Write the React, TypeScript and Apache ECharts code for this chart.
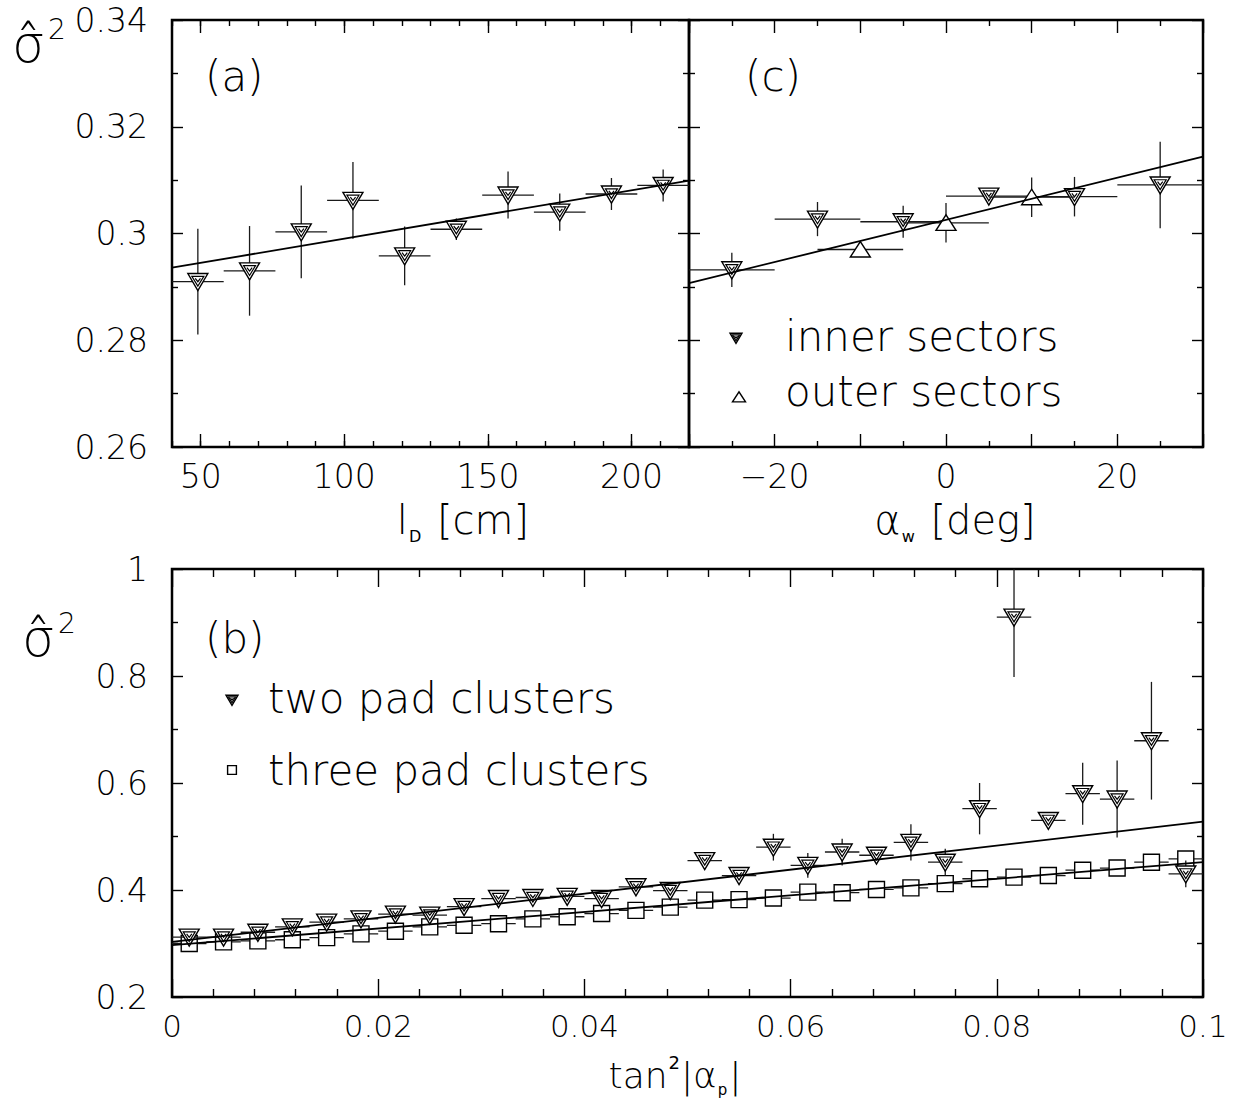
import React, { useEffect, useRef } from 'react';
import * as echarts from 'echarts';

// ---------- (a) sigma^2 versus drift length l_D ----------
const driftLength = [49, 67, 85, 103, 121, 139, 157, 175, 193, 211];
const driftHalfBin = 9;
const driftSigma2 = [0.2910, 0.2930, 0.3003, 0.3062, 0.2958, 0.3008, 0.3072, 0.3040, 0.3074, 0.3090];
const driftErr = [0.0099, 0.0084, 0.0087, 0.0072, 0.0055, 0.0020, 0.0044, 0.0035, 0.0030, 0.0030];
const driftFit = [[40, 0.2936], [220, 0.3099]];
const driftTicks = [50, 100, 150, 200];

// ---------- (c) sigma^2 versus wire angle alpha_w ----------
const innerAngle = [-25, -15, -5, 5, 15, 25];
const innerSigma2 = [0.2932, 0.3027, 0.3022, 0.3070, 0.3069, 0.3091];
const innerErr = [0.0032, 0.0032, 0.0030, 0.0010, 0.0037, 0.0081];
const outerAngle = [-10, 0, 10];
const outerSigma2 = [0.2970, 0.3020, 0.3068];
const outerErr = [0.0010, 0.0037, 0.0037];
const angleHalfBin = 5;
const angleFit = [[-30, 0.2907], [30, 0.3144]];

// ---------- (b) sigma^2 versus tan^2|alpha_p| ----------
const tan2Center = [
  0.00167, 0.005, 0.00833, 0.01167, 0.015, 0.01833, 0.02167, 0.025, 0.02833, 0.03167,
  0.035, 0.03833, 0.04167, 0.045, 0.04833, 0.05167, 0.055, 0.05833, 0.06167, 0.065,
  0.06833, 0.07167, 0.075, 0.07833, 0.08167, 0.085, 0.08833, 0.09167, 0.095, 0.09833,
];
const tan2HalfBin = 0.00167;
const twoPadSigma2 = [
  0.312, 0.312, 0.321, 0.331, 0.340, 0.346, 0.355, 0.353, 0.369, 0.384,
  0.386, 0.388, 0.384, 0.406, 0.399, 0.455, 0.427, 0.480, 0.446, 0.471,
  0.465, 0.489, 0.452, 0.552, 0.910, 0.530, 0.580, 0.570, 0.679, 0.430,
];
const twoPadErr = [
  0.006, 0.006, 0.006, 0.007, 0.007, 0.008, 0.008, 0.008, 0.009, 0.010,
  0.010, 0.010, 0.011, 0.012, 0.012, 0.012, 0.012, 0.025, 0.023, 0.025,
  0.012, 0.034, 0.025, 0.048, 0.112, 0.012, 0.058, 0.072, 0.110, 0.025,
];
const threePadSigma2 = [
  0.300, 0.303, 0.305, 0.307, 0.311, 0.318, 0.323, 0.331, 0.334, 0.337,
  0.346, 0.350, 0.356, 0.362, 0.368, 0.381, 0.382, 0.385, 0.396, 0.395,
  0.401, 0.404, 0.412, 0.421, 0.424, 0.427, 0.437, 0.441, 0.452, 0.458,
];
const threePadErr = [
  0.004, 0.004, 0.004, 0.004, 0.005, 0.005, 0.005, 0.005, 0.006, 0.006,
  0.006, 0.006, 0.007, 0.007, 0.008, 0.008, 0.008, 0.008, 0.009, 0.009,
  0.009, 0.010, 0.010, 0.010, 0.011, 0.011, 0.012, 0.012, 0.013, 0.014,
];
const twoPadFit = [[0, 0.303], [0.1, 0.528]];
const threePadFit = [[0, 0.297], [0.1, 0.452]];

const FONT = '"DejaVu Sans", "Open Sans", sans-serif';
const WEIGHT = 200;
const INK = '#000';

type MarkerKind = 'triDown' | 'triUp' | 'square';

// Marker outlines centred on (cx, cy); s scales the symbol.
function markerShapes(kind: MarkerKind, cx: number, cy: number, s = 1): any[] {
  if (kind === 'triDown') {
    return [
      { type: 'polygon', shape: { points: [[cx - 10 * s, cy - 8 * s], [cx + 10 * s, cy - 8 * s], [cx, cy + 9 * s]] },
        style: { fill: '#fff', stroke: INK, lineWidth: 1.4 } },
      { type: 'polygon', shape: { points: [[cx - 6 * s, cy - 5.2 * s], [cx + 6 * s, cy - 5.2 * s], [cx, cy + 4.6 * s]] },
        style: { fill: 'none', stroke: INK, lineWidth: 1.2 } },
      { type: 'polyline', shape: { points: [[cx - 2.6 * s, cy - 3.2 * s], [cx, cy + 0.2 * s], [cx + 2.6 * s, cy - 3.2 * s]] },
        style: { fill: 'none', stroke: INK, lineWidth: 1.2 } },
    ];
  }
  if (kind === 'triUp') {
    return [
      { type: 'polygon', shape: { points: [[cx - 10 * s, cy + 7.5 * s], [cx + 10 * s, cy + 7.5 * s], [cx, cy - 8 * s]] },
        style: { fill: '#fff', stroke: INK, lineWidth: 1.4 } },
    ];
  }
  return [
    { type: 'rect', shape: { x: cx - 8 * s, y: cy - 8 * s, width: 16 * s, height: 16 * s },
      style: { fill: '#fff', stroke: INK, lineWidth: 1.4 } },
  ];
}

// Points with horizontal (bin) and vertical (statistical) error bars.
function errorRenderer(kind: MarkerKind) {
  return (params: any, api: any) => {
    const x = api.value(0);
    const y = api.value(1);
    const xe = api.value(2);
    const ye = api.value(3);
    const cs = params.coordSys;
    const c = api.coord([x, y]);
    const xl = Math.max(cs.x, api.coord([x - xe, y])[0]);
    const xr = Math.min(cs.x + cs.width, api.coord([x + xe, y])[0]);
    const yt = Math.max(cs.y, api.coord([x, y + ye])[1]);
    const yb = Math.min(cs.y + cs.height, api.coord([x, y - ye])[1]);
    const bar = { stroke: '#1a1a1a', lineWidth: 1.3 };
    return {
      type: 'group',
      children: [
        { type: 'line', shape: { x1: xl, y1: c[1], x2: xr, y2: c[1] }, style: bar },
        { type: 'line', shape: { x1: c[0], y1: yt, x2: c[0], y2: yb }, style: bar },
        ...markerShapes(kind, c[0], c[1]),
      ],
    };
  };
}

const rows = (xs: number[], ys: number[], xe: number, ye: number[]) =>
  xs.map((x, i) => [x, ys[i], xe, ye[i]]);

const tickLine = { color: INK, width: 1.4 };
const labelStyle = { color: INK, fontFamily: FONT, fontSize: 33, fontWeight: WEIGHT as any };

function frameAxis(extra: any): any {
  return {
    type: 'value',
    splitLine: { show: false },
    axisLabel: { show: false },
    ...extra,
    axisLine: { show: false, onZero: false },
    axisTick: { inside: true, lineStyle: tickLine, ...(extra.axisTick || {}) },
  };
}

function txt(t: string, x: number, y: number, size: number, extra: any = {}) {
  return {
    type: 'text', x, y, silent: true,
    style: { text: t, fill: INK, fontFamily: FONT, fontSize: size, fontWeight: WEIGHT, align: 'left', verticalAlign: 'middle', ...extra },
  };
}

// Rich-text styles for symbols with sub/superscripts.
const tok = (fontSize: number, lineHeight: number, weight: number, verticalAlign?: string, padding?: number[]) => ({
  fontSize, lineHeight, fontFamily: FONT, fontWeight: weight, fill: INK, color: INK,
  ...(verticalAlign ? { verticalAlign } : {}), ...(padding ? { padding } : {}),
});
const mathRich = {
  m: tok(40, 48, WEIGHT),
  n: tok(36, 44, WEIGHT),
  sub: tok(16, 17, 400, 'bottom', [0, 3, 0, 1]),
  nsub: tok(15, 16, 400, 'bottom', [0, 2, 0, 1]),
  sup: tok(18, 19, 400, 'top', [0, 1, 0, 1]),
  big: tok(52, 58, WEIGHT),
  bigsup: tok(28, 28, WEIGHT, 'top', [0, 0, 0, 3]),
};
function math(t: string, x: number, y: number, align = 'center') {
  return {
    type: 'text', x, y, silent: true,
    style: { text: t, rich: mathRich, align, verticalAlign: 'middle', fill: INK, fontFamily: FONT },
  };
}

function buildOption(): any {
  const angleLabel = (v: number) => {
    if (Math.abs(v) >= 30 || v % 20 !== 0) return '';
    return v < 0 ? '\u2212' + Math.abs(v) : String(v);
  };

  const xAxis = [
    // (a)
    frameAxis({ gridIndex: 0, position: 'bottom', min: 40, max: 220, interval: 10, axisTick: { length: 6 } }),
    frameAxis({ gridIndex: 0, position: 'bottom', min: 40, max: 220,
      axisTick: { length: 13, customValues: driftTicks },
      axisLabel: { show: true, customValues: driftTicks, margin: 13, ...labelStyle } }),
    frameAxis({ gridIndex: 0, position: 'top', min: 40, max: 220, interval: 10, axisTick: { length: 6 } }),
    frameAxis({ gridIndex: 0, position: 'top', min: 40, max: 220, axisTick: { length: 13, customValues: driftTicks } }),
    // (c)
    frameAxis({ gridIndex: 1, position: 'bottom', min: -30, max: 30, interval: 10, axisTick: { length: 13 },
      minorTick: { show: true, splitNumber: 2, length: 6, lineStyle: tickLine },
      axisLabel: { show: true, formatter: angleLabel, margin: 13, showMinLabel: false, showMaxLabel: false, ...labelStyle } }),
    frameAxis({ gridIndex: 1, position: 'top', min: -30, max: 30, interval: 10, axisTick: { length: 13 },
      minorTick: { show: true, splitNumber: 2, length: 6, lineStyle: tickLine } }),
    // (b)
    frameAxis({ gridIndex: 2, position: 'bottom', min: 0, max: 0.1, interval: 0.02, axisTick: { length: 18 },
      minorTick: { show: true, splitNumber: 5, length: 8, lineStyle: tickLine },
      axisLabel: { show: true, margin: 13, ...labelStyle, fontSize: 31 } }),
    frameAxis({ gridIndex: 2, position: 'top', min: 0, max: 0.1, interval: 0.02, axisTick: { length: 18 },
      minorTick: { show: true, splitNumber: 5, length: 8, lineStyle: tickLine } }),
  ];

  const yAxis = [
    frameAxis({ gridIndex: 0, position: 'left', min: 0.26, max: 0.34, interval: 0.02, axisTick: { length: 11 },
      minorTick: { show: true, splitNumber: 2, length: 6, lineStyle: tickLine },
      axisLabel: { show: true, margin: 24, ...labelStyle } }),
    frameAxis({ gridIndex: 0, position: 'right', min: 0.26, max: 0.34, interval: 0.02, axisTick: { length: 11 },
      minorTick: { show: true, splitNumber: 2, length: 6, lineStyle: tickLine } }),
    frameAxis({ gridIndex: 1, position: 'left', min: 0.26, max: 0.34, interval: 0.02, axisTick: { length: 11 },
      minorTick: { show: true, splitNumber: 2, length: 6, lineStyle: tickLine } }),
    frameAxis({ gridIndex: 1, position: 'right', min: 0.26, max: 0.34, interval: 0.02, axisTick: { length: 11 },
      minorTick: { show: true, splitNumber: 2, length: 6, lineStyle: tickLine } }),
    frameAxis({ gridIndex: 2, position: 'left', min: 0.2, max: 1, interval: 0.2, axisTick: { length: 11 },
      minorTick: { show: true, splitNumber: 2, length: 6, lineStyle: tickLine },
      axisLabel: { show: true, margin: 24, ...labelStyle } }),
    frameAxis({ gridIndex: 2, position: 'right', min: 0.2, max: 1, interval: 0.2, axisTick: { length: 11 },
      minorTick: { show: true, splitNumber: 2, length: 6, lineStyle: tickLine } }),
  ];

  const fitLine = (name: string, data: number[][], xi: number, yi: number) => ({
    name, type: 'line', data, xAxisIndex: xi, yAxisIndex: yi, symbol: 'none', silent: true, z: 5,
    lineStyle: { color: INK, width: 1.8 },
  });
  const points = (name: string, kind: MarkerKind, data: number[][], xi: number, yi: number) => ({
    name, type: 'custom', data, xAxisIndex: xi, yAxisIndex: yi, encode: { x: 0, y: 1 },
    renderItem: errorRenderer(kind), silent: true, z: 3,
  });

  const series = [
    points('drift', 'triDown', rows(driftLength, driftSigma2, driftHalfBin, driftErr), 0, 0),
    fitLine('drift fit', driftFit, 0, 0),
    points('inner sectors', 'triDown', rows(innerAngle, innerSigma2, angleHalfBin, innerErr), 4, 2),
    points('outer sectors', 'triUp', rows(outerAngle, outerSigma2, angleHalfBin, outerErr), 4, 2),
    fitLine('angle fit', angleFit, 4, 2),
    points('three pad clusters', 'square', rows(tan2Center, threePadSigma2, tan2HalfBin, threePadErr), 6, 4),
    points('two pad clusters', 'triDown', rows(tan2Center, twoPadSigma2, tan2HalfBin, twoPadErr), 6, 4),
    fitLine('two pad fit', twoPadFit, 6, 4),
    fitLine('three pad fit', threePadFit, 6, 4),
  ];

  const graphic = [
    // sigma-hat squared, upper and lower panels
    math('{big|\u03c3\u0302}{bigsup|2}', 12, 44, 'left'),
    math('{big|\u03c3\u0302}{bigsup|2}', 22, 638, 'left'),
    // panel tags
    txt('(a)', 205, 76, 42), txt('(c)', 745, 76, 42), txt('(b)', 205, 638, 42),
    // legend of (c)
    ...markerShapes('triDown', 736, 338, 0.6), txt('inner sectors', 785, 336, 42),
    ...markerShapes('triUp', 739, 397, 0.65), txt('outer sectors', 785, 391, 42),
    // legend of (b)
    ...markerShapes('triDown', 232, 700, 0.6), txt('two pad clusters', 268, 698, 42),
    ...markerShapes('square', 232, 770, 0.55), txt('three pad clusters', 268, 770, 42),
    // axis titles
    math('{m|l}{sub|D}{m| [cm]}', 463, 520),
    math('{m|\u03b1}{sub|w}{m| [deg]}', 955, 520),
    math('{n|tan}{sup|2}{n||\u03b1}{nsub|p}{n||}', 675, 1075),
  ];

  return {
    animation: false,
    backgroundColor: '#fff',
    grid: [
      { left: 172, top: 20, width: 517, height: 427, show: true, borderColor: INK, borderWidth: 2.5, backgroundColor: 'transparent' },
      { left: 689, top: 20, width: 514, height: 427, show: true, borderColor: INK, borderWidth: 2.5, backgroundColor: 'transparent' },
      { left: 172, top: 569, width: 1031, height: 428, show: true, borderColor: INK, borderWidth: 2.5, backgroundColor: 'transparent' },
    ],
    xAxis,
    yAxis,
    series,
    graphic: { elements: graphic },
  };
}

export default function App() {
  const ref = useRef<HTMLDivElement>(null);
  useEffect(() => {
    if (!ref.current) return;
    const chart = echarts.init(ref.current, undefined, { renderer: 'svg' });
    chart.setOption(buildOption());
    return () => chart.dispose();
  }, []);
  return (
    <div
      ref={ref}
      style={{ position: 'absolute', left: 0, top: 0, width: 1236, height: 1111, background: '#fff' }}
    />
  );
}
